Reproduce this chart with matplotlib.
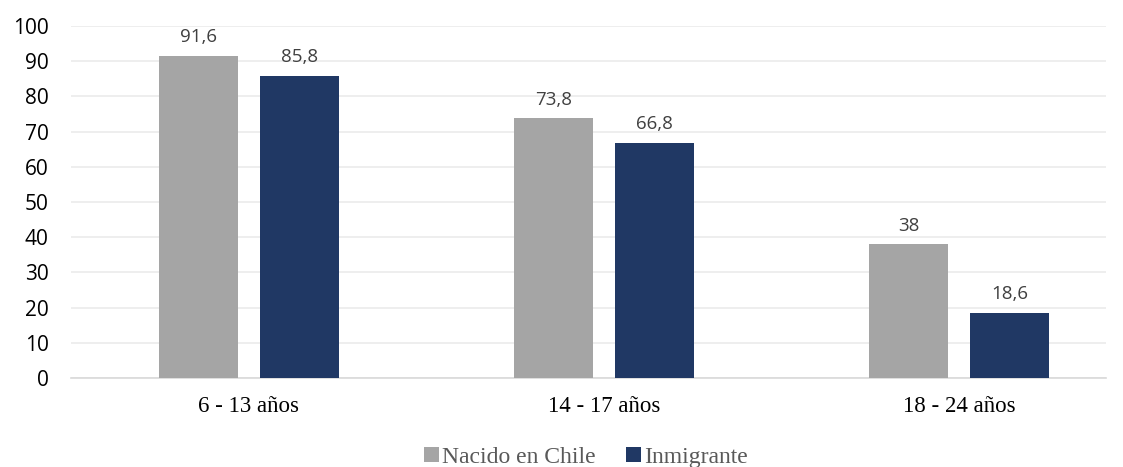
import matplotlib
matplotlib.use("Agg")
import matplotlib.pyplot as plt
import numpy as np

categories = ["6 - 13 años", "14 - 17 años", "18 - 24 años"]
series_names = ["Nacido en Chile", "Inmigrante"]
chile = [91.6, 73.8, 38]
inmig = [85.8, 66.8, 18.6]
chile_labels = ["91,6", "73,8", "38"]
inmig_labels = ["85,8", "66,8", "18,6"]
yticks = [0, 10, 20, 30, 40, 50, 60, 70, 80, 90, 100]

fig = plt.figure(figsize=(11.23, 4.67), dpi=100)
ax = fig.add_axes([71/1123, 89/467, 1035/1123, 352/467])

x = np.arange(len(categories))
w = 0.2225
off = 0.142
b1 = ax.bar(x - off, chile, w, color="#A5A5A5", label=series_names[0], zorder=3)
b2 = ax.bar(x + off, inmig, w, color="#203864", label=series_names[1], zorder=3)

for bars, labs in ((b1, chile_labels), (b2, inmig_labels)):
    for rect, lab in zip(bars, labs):
        ax.annotate(lab, (rect.get_x() + rect.get_width()/2, rect.get_height()),
                    xytext=(0, 7), textcoords="offset points", ha="center", va="bottom",
                    fontsize=13.5, color="#404040", family="Open Sans")

ax.set_ylim(0, 100)
ax.set_xlim(-0.501, 2.414)
ax.set_yticks(yticks)
ax.set_yticklabels([str(t) for t in yticks], fontsize=15, family="Open Sans", color="black")
ax.set_xticks(x)
ax.set_xticklabels(categories, fontsize=16.5, family="Liberation Serif", color="black")
ax.tick_params(axis="both", length=0)
ax.tick_params(axis="y", pad=16)
ax.tick_params(axis="x", pad=13)
for lab in ax.get_yticklabels():
    pass
ax.grid(axis="y", color="#EBEBEB", linewidth=1.2, zorder=0)
for s in ["top", "right", "left"]:
    ax.spines[s].set_visible(False)
ax.spines["bottom"].set_color("#D9D9D9")
ax.spines["bottom"].set_linewidth(1.2)

leg = fig.legend(handles=[b1, b2], labels=series_names, loc="center",
                 bbox_to_anchor=(0.522, 0.02), ncol=2, frameon=False,
                 prop={"family": "Liberation Serif", "size": 17},
                 handlelength=0.6, handleheight=0.6, handletextpad=0.15, columnspacing=1.3)
for t in leg.get_texts():
    t.set_color("#595959")

fig.savefig("out.png", dpi=100)
